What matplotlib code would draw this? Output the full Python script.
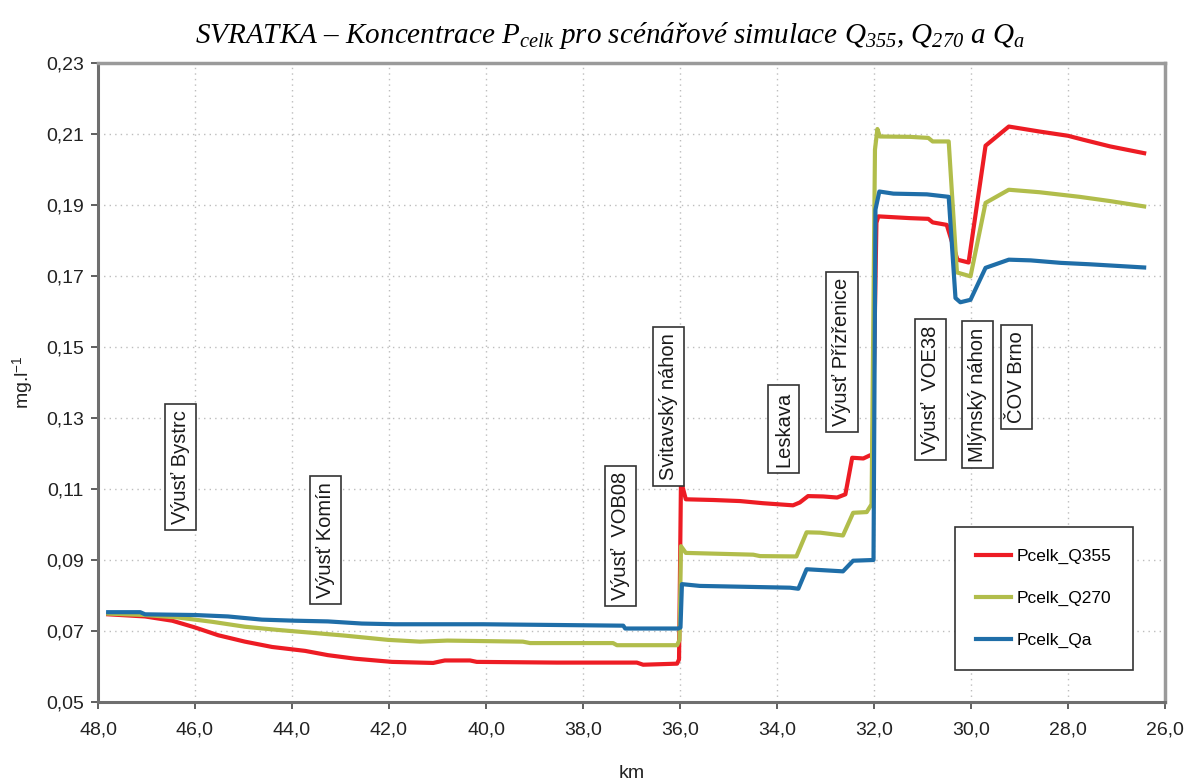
import matplotlib
matplotlib.use("Agg")
import numpy as np
import matplotlib.pyplot as plt
from matplotlib.ticker import FuncFormatter

plt.rcParams["font.family"] = ["Liberation Sans", "DejaVu Sans"]
plt.rcParams["mathtext.fontset"] = "custom"
plt.rcParams["mathtext.it"] = "Liberation Serif:italic"
plt.rcParams["mathtext.rm"] = "Liberation Serif:italic"
plt.rcParams["mathtext.sf"] = "Liberation Sans"

# Pcelk_Q355
km_q355 = [47.79, 47.03, 46.47, 46.00, 45.52, 44.97, 44.41, 43.73, 43.26, 42.70,
           41.94, 41.09, 40.85, 40.33, 40.19, 38.54, 36.89, 36.76, 36.06, 36.02,
           35.98, 35.88, 35.31, 34.76, 34.29, 33.67, 33.53, 33.36, 33.05, 32.76,
           32.59, 32.45, 32.22, 32.08, 32.03, 31.95, 31.91, 31.26, 30.88, 30.79,
           30.50, 30.28, 30.05, 29.70, 29.22, 28.59, 28.00, 27.69, 27.13, 26.43]
pcelk_q355 = [0.0747, 0.0741, 0.0729, 0.0710, 0.0688, 0.0670, 0.0655, 0.0644, 0.0632, 0.0622,
              0.0613, 0.0610, 0.0617, 0.0617, 0.0613, 0.0611, 0.0611, 0.0605, 0.0608, 0.0620,
              0.1123, 0.1071, 0.1069, 0.1066, 0.1060, 0.1054, 0.1062, 0.1080, 0.1079, 0.1076,
              0.1085, 0.1188, 0.1186, 0.1195, 0.1195, 0.1850, 0.1868, 0.1863, 0.1861, 0.1851,
              0.1844, 0.1746, 0.1738, 0.2067, 0.2121, 0.2107, 0.2095, 0.2084, 0.2065, 0.2046]

# Pcelk_Q270
km_q270 = [47.79, 47.03, 46.35, 45.65, 44.97, 44.29, 43.59, 42.91, 42.02, 41.36,
           40.80, 39.24, 39.09, 37.38, 37.30, 36.06, 36.01, 35.98, 35.88, 34.49,
           34.35, 33.60, 33.39, 33.11, 32.64, 32.43, 32.15, 32.05, 31.98, 31.93,
           31.88, 31.26, 30.88, 30.79, 30.46, 30.29, 30.01, 29.70, 29.22, 28.59,
           27.76, 27.13, 26.43]
pcelk_q270 = [0.0749, 0.0745, 0.0738, 0.0726, 0.0712, 0.0703, 0.0695, 0.0687, 0.0675, 0.0670,
              0.0673, 0.0670, 0.0666, 0.0666, 0.0660, 0.0660, 0.0675, 0.0939, 0.0920, 0.0915,
              0.0911, 0.0910, 0.0978, 0.0977, 0.0969, 0.1033, 0.1035, 0.1057, 0.2056, 0.2114,
              0.2093, 0.2092, 0.2089, 0.2079, 0.2079, 0.1710, 0.1699, 0.1906, 0.1943, 0.1936,
              0.1923, 0.1911, 0.1896]

# Pcelk_Qa
km_qa = [47.79, 47.13, 47.03, 46.00, 45.32, 44.62, 43.94, 43.26, 42.56, 41.88,
         40.06, 37.17, 37.13, 36.04, 35.99, 35.96, 35.59, 33.73, 33.56, 33.39,
         32.64, 32.43, 32.01, 31.97, 31.89, 31.60, 30.91, 30.46, 30.32, 30.22,
         30.01, 29.70, 29.22, 28.77, 28.15, 27.55, 26.43]
pcelk_qa = [0.0753, 0.0753, 0.0747, 0.0745, 0.0741, 0.0732, 0.0729, 0.0727, 0.0721, 0.0719,
            0.0719, 0.0715, 0.0707, 0.0707, 0.0710, 0.0832, 0.0827, 0.0822, 0.0819, 0.0874,
            0.0868, 0.0898, 0.0900, 0.1887, 0.1938, 0.1932, 0.1930, 0.1923, 0.1638, 0.1626,
            0.1633, 0.1723, 0.1746, 0.1744, 0.1737, 0.1733, 0.1724]

# river outlets: label, km, concentration level of the label centre
outlets = ["Výusť Bystrc", "Výusť Komín", "Výusť  VOB08", "Svitavský náhon", "Leskava",
           "Výusť Přízřenice", "Výusť  VOE38", "Mlýnský náhon", "ČOV Brno"]
outlet_km = [46.29, 43.30, 37.23, 36.24, 33.86, 32.66, 30.83, 29.86, 29.07]
outlet_y = [0.1162, 0.0956, 0.0968, 0.1332, 0.1269, 0.1485, 0.1380, 0.1366, 0.1415]

x_ticks = np.arange(48, 25.9, -2)
y_ticks = np.arange(0.05, 0.2301, 0.02)

fig = plt.figure(figsize=(11.91, 7.83), dpi=100)
ax = fig.add_axes([98 / 1191, 1 - 702 / 783, (1165 - 98) / 1191, (702 - 63) / 783])

ax.plot(km_q355, pcelk_q355, color="#ED1C24", lw=3, label="Pcelk_Q355")
ax.plot(km_q270, pcelk_q270, color="#B1BD4B", lw=3, label="Pcelk_Q270")
ax.plot(km_qa, pcelk_qa, color="#1F6EA8", lw=3, label="Pcelk_Qa")

for name, x, y in zip(outlets, outlet_km, outlet_y):
    ax.text(x, y, name, rotation=90, ha="center", va="center", fontsize=14.5,
            color="#1a1a1a",
            bbox=dict(boxstyle="square,pad=0.3", fc="white", ec="#333333", lw=1.2))

ax.set_xlim(48, 26)
ax.set_ylim(0.05, 0.23)
ax.set_xticks(x_ticks)
ax.set_yticks(y_ticks)
ax.xaxis.set_major_formatter(FuncFormatter(lambda v, p: f"{v:.1f}".replace(".", ",")))
ax.yaxis.set_major_formatter(FuncFormatter(lambda v, p: f"{v:.2f}".replace(".", ",")))
ax.tick_params(direction="out", length=5, width=1.2, colors="#444444",
               labelsize=14, labelcolor="#222222", pad=5)
ax.tick_params(axis="x", pad=9)
ax.grid(True, which="major", color="#bdbdbd", lw=1, ls=(0, (1, 3)))

for side in ["top", "right"]:
    ax.spines[side].set_color("#9a9a9a")
    ax.spines[side].set_linewidth(2.5)
for side in ["left", "bottom"]:
    ax.spines[side].set_color("#6f6f6f")
    ax.spines[side].set_linewidth(2.2)

ax.set_xlabel("km", fontsize=14, color="#222222")
ax.xaxis.set_label_coords(0.5, -0.098)
ax.set_ylabel(r"mg.l$^{\mathsf{-1}}$", fontsize=14, color="#222222")
ax.yaxis.set_label_coords(-0.058, 0.5)

leg = ax.legend(loc="upper right", bbox_to_anchor=(0.970, 0.274), borderaxespad=0,
                fontsize=12.5, handlelength=2.0, handletextpad=0.3, labelspacing=1.55,
                borderpad=1.25, fancybox=False, framealpha=1, edgecolor="#333333")
leg.get_frame().set_linewidth(1.2)

title = ("SVRATKA – Koncentrace $P_{celk}$ pro scénářové simulace "
         "$Q_{355}$, $Q_{270}$ a $Q_{a}$")
fig.text(0.512, 0.955, title, fontsize=21, family="Liberation Serif", style="italic",
         ha="center", va="center")

fig.savefig("out.png", dpi=100)
